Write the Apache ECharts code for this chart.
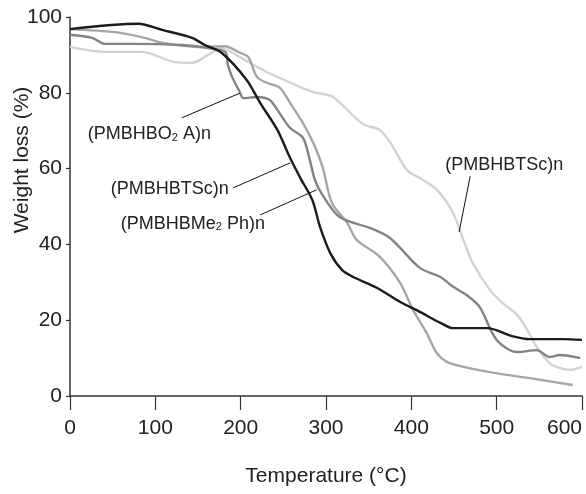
<!DOCTYPE html>
<html>
<head>
<meta charset="utf-8">
<script src="https://cdn.jsdelivr.net/npm/echarts@6/dist/echarts.min.js"></script>
<style>
  html, body { margin: 0; padding: 0; background: #fff; }
  #chart { width: 586px; height: 494px; }
</style>
</head>
<body>
<div id="chart"></div>
<script>
// values: [temperature, weight %]
const blackCurve = [
  [0, 96.8], [80, 98.2], [108, 96.6], [143, 94.5], [158, 92.6], [178, 90.5],
  [207, 83.4], [223, 77.3], [243, 70.2], [258, 62.8], [270, 57.5], [284, 51.7],
  [293, 44.6], [305, 37.7], [319, 33.2], [332, 31.4], [360, 28.5], [387, 24.8],
  [410, 22.2], [434, 19.3], [449, 17.9], [489, 17.9], [518, 15.8], [539, 15.0],
  [578, 15.0], [600, 14.8]
];
const darkCurve = [
  [0, 95.3], [26, 94.5], [41, 92.9], [73, 92.9], [131, 92.6], [162, 91.8],
  [182, 90.8], [185, 87.3], [190, 84.2], [199, 80.2], [203, 78.6], [219, 78.9],
  [234, 78.1], [243, 75.5], [258, 70.7], [273, 68.1], [281, 62.3], [287, 57.0],
  [296, 53.0], [316, 47.2], [352, 44.3], [375, 41.7], [410, 33.8], [434, 31.4],
  [449, 28.8], [465, 26.6], [480, 23.5], [500, 14.8], [524, 11.6], [547, 12.1],
  [562, 10.3], [574, 10.8], [598, 10.0]
];
const midCurve = [
  [0, 96.8], [53, 96.0], [84, 94.7], [111, 93.1], [150, 92.1], [182, 92.3],
  [197, 90.8], [209, 89.4], [219, 84.2], [231, 82.6], [246, 81.3], [258, 77.3],
  [273, 72.0], [285, 66.8], [296, 60.4], [307, 50.9], [325, 45.6], [336, 41.2],
  [363, 36.7], [387, 29.8], [402, 22.7], [418, 16.6], [430, 11.3], [445, 8.7],
  [492, 6.3], [539, 4.7], [589, 2.9]
];
const lightCurve = [
  [0, 92.1], [41, 90.8], [84, 90.8], [123, 88.1], [143, 87.9], [162, 90.0],
  [178, 91.8], [199, 89.4], [226, 86.0], [246, 83.9], [270, 81.5], [285, 80.2],
  [308, 78.9], [343, 71.8], [363, 70.2], [375, 67.0], [395, 59.6], [410, 57.5],
  [430, 54.4], [449, 48.3], [461, 41.2], [472, 35.1], [492, 28.0], [507, 24.5],
  [524, 21.4], [536, 17.4], [547, 12.9], [562, 8.7], [574, 7.4], [586, 6.9],
  [600, 7.7]
];

// label text + where it sits, and the leader line (data coords)
const noteTexts = ['(PMBHBO{s|2} A)n', '(PMBHBTSc)n', '(PMBHBMe{s|2} Ph)n', '(PMBHBTSc)n'];
const notePos = [[93, 69.1], [117, 54.6], [144, 45.4], [509, 60.9]];
const noteLines = [
  [[131, 73.4], [199, 79.9]],
  [[191, 54.9], [258, 61.5]],
  [[223, 47.8], [289, 54.4]],
  [[469, 58.0], [456, 43.3]]
];

const font = 'Arial, "Liberation Sans", Helvetica, sans-serif';

const chart = echarts.init(document.getElementById('chart'));

function curve(name, data, color, z) {
  return {
    name: name,
    type: 'line',
    data: data,
    showSymbol: false,
    smooth: 0.3,
    z: z,
    lineStyle: { color: color, width: 2.4 },
    emphasis: { disabled: true }
  };
}

const notes = {
  type: 'line',
  data: [],
  silent: true,
  markLine: {
    symbol: 'none',
    silent: true,
    label: { show: false },
    lineStyle: { color: '#111', width: 1, type: 'solid' },
    data: noteLines.map(l => [{ coord: l[0] }, { coord: l[1] }])
  },
  markPoint: {
    symbol: 'circle',
    symbolSize: 0,
    silent: true,
    label: {
      show: true,
      position: 'inside',
      color: '#222',
      fontFamily: font,
      fontSize: 18,
      rich: { s: { fontSize: 11, fontFamily: font, color: '#222', padding: [7, 0, 0, 0] } }
    },
    data: notePos.map((p, i) => ({ coord: p, value: 0, label: { formatter: noteTexts[i] } }))
  }
};

chart.setOption({
  animation: false,
  backgroundColor: '#fff',
  grid: { left: 70, right: 4, top: 17, bottom: 98, outerBoundsMode: 'none' },
  // y axis title sits above the axis middle in the original
  graphic: [{
    type: 'text',
    x: 22,
    y: 160,
    rotation: Math.PI / 2,
    style: {
      text: 'Weight loss (%)',
      fontFamily: font,
      fontSize: 21,
      fill: '#222',
      align: 'center',
      verticalAlign: 'middle'
    }
  }],
  xAxis: {
    type: 'value',
    min: 0, max: 600, interval: 100,
    name: 'Temperature (°C)',
    nameLocation: 'middle',
    nameGap: 70,
    nameTextStyle: { fontFamily: font, fontSize: 21, color: '#222' },
    axisLine: { lineStyle: { color: '#333', width: 1.5 } },
    axisTick: { length: 14, lineStyle: { color: '#333', width: 1.2 } },
    axisLabel: { margin: 22, fontFamily: font, fontSize: 21, color: '#222', alignMaxLabel: 'right' },
    splitLine: { show: false }
  },
  yAxis: {
    type: 'value',
    min: 0, max: 100, interval: 20,
    axisLine: { show: true, lineStyle: { color: '#333', width: 1.5 } },
    axisTick: { show: true, length: 4, lineStyle: { color: '#333', width: 1.2 } },
    axisLabel: { margin: 8, fontFamily: font, fontSize: 21, color: '#222' },
    splitLine: { show: false }
  },
  series: [
    curve('light', lightCurve, '#d2d2d2', 2),
    curve('mid', midCurve, '#a6a6a6', 3),
    curve('dark', darkCurve, '#838383', 4),
    curve('black', blackCurve, '#1c1c1c', 5),
    notes
  ]
});
</script>
</body>
</html>
